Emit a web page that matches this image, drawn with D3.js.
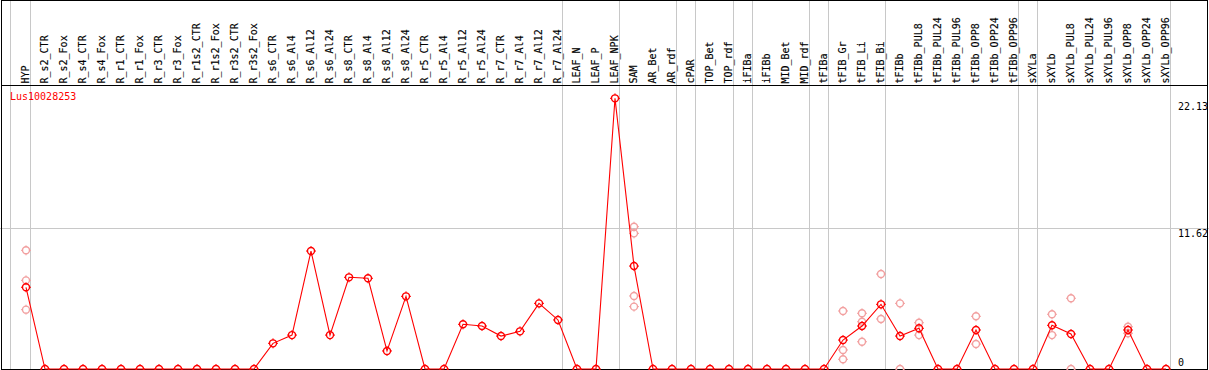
<!DOCTYPE html>
<html>
<head>
<meta charset="utf-8">
<script src="https://cdn.jsdelivr.net/npm/d3@7"></script>
<style>
  body { margin: 0; background: #fff; }
  svg { display: block; }
  text { font-family: "DejaVu Sans Mono", monospace; font-size: 10px; }
</style>
</head>
<body>
<div id="chart"></div>
<script>
// sample names, in plotting order
const samples = ["HYP", "R_s2_CTR", "R_s2_Fox", "R_s4_CTR", "R_s4_Fox", "R_r1_CTR", "R_r1_Fox",
    "R_r3_CTR", "R_r3_Fox", "R_r1s2_CTR", "R_r1s2_Fox", "R_r3s2_CTR", "R_r3s2_Fox",
    "R_s6_CTR", "R_s6_Al4", "R_s6_Al12", "R_s6_Al24", "R_s8_CTR", "R_s8_Al4", "R_s8_Al12", "R_s8_Al24",
    "R_r5_CTR", "R_r5_Al4", "R_r5_Al12", "R_r5_Al24", "R_r7_CTR", "R_r7_Al4", "R_r7_Al12", "R_r7_Al24",
    "LEAF_N", "LEAF_P", "LEAF_NPK", "SAM", "AR_Bet", "AR_rdf", "cPAR", "TOP_Bet", "TOP_rdf",
    "iFIBa", "iFIBb", "MID_Bet", "MID_rdf", "tFIBa", "tFIB_Gr", "tFIB_Li", "tFIB_Bi",
    "tFIBb", "tFIBb_PUL8", "tFIBb_PUL24", "tFIBb_PUL96", "tFIBb_OPP8", "tFIBb_OPP24", "tFIBb_OPP96",
    "sXYLa", "sXYLb", "sXYLb_PUL8", "sXYLb_PUL24", "sXYLb_PUL96", "sXYLb_OPP8", "sXYLb_OPP24", "sXYLb_OPP96"];

// mean expression per sample
const means = [6.75, 0, 0, 0, 0, 0, 0, 0, 0, 0, 0, 0, 0,
    2.12, 2.8, 9.74, 2.8, 7.57, 7.49, 1.49, 6.0,
    0, 0, 3.69, 3.55, 2.72, 3.11, 5.42, 4.05,
    0, 0, 22.35, 8.5, 0, 0, 0, 0, 0,
    0, 0, 0, 0, 0, 2.39, 3.55, 5.34,
    2.72, 3.36, 0, 0, 3.22, 0, 0,
    0, 3.61, 2.89, 0, 0, 3.22, 0, 0];

// individual replicate values (only the ones visible away from the mean)
const replicates = {
    "HYP": [9.8, 7.32, 4.9],
    "SAM": [11.75, 11.2, 6.03, 5.15],
    "tFIB_Gr": [4.79, 1.57, 0.8],
    "tFIB_Li": [4.6, 3.9, 2.25],
    "tFIB_Bi": [7.84, 4.13],
    "tFIBb": [5.42, 0],
    "tFIBb_PUL8": [3.82, 2.8],
    "tFIBb_OPP8": [4.35, 2.06],
    "sXYLb": [4.52, 2.8],
    "sXYLb_PUL8": [5.84, 0],
    "sXYLb_OPP8": [3.49, 2.95]
};

// last sample of each tissue group (a separator is drawn after it)
const groupEnds = ["HYP", "R_r7_Al24", "LEAF_NPK", "AR_rdf", "cPAR", "TOP_rdf", "iFIBa",
    "MID_rdf", "tFIBa", "tFIB_Bi", "tFIBb_OPP96", "sXYLa", "sXYLb_OPP96"];

const yTicks = [0, 11.62, 22.13];
const geneName = "Lus10028253";

const width = 1209, height = 370;
const plotTop = 85, plotBottom = 369;

const svg = d3.select("#chart")
    .append("svg")
    .attr("width", width)
    .attr("height", height);

const x = d3.scalePoint()
    .domain(samples)
    .range([26, 1166]);

const y = d3.scaleLinear()
    .domain([0, 22.13])
    .range([plotBottom, 101]);

// gray separators
const sepX = [10.5].concat(groupEnds.map(s => x(s) + 4.5));
svg.selectAll("line.sep")
    .data(sepX)
    .enter()
    .append("line")
    .attr("class", "sep")
    .attr("x1", d => d).attr("x2", d => d)
    .attr("y1", 0).attr("y2", height)
    .attr("stroke", "#c8c8c8")
    .attr("stroke-width", 1);

// horizontal grid at the middle tick
svg.selectAll("line.grid")
    .data(yTicks.filter(v => v > 0 && v < 22.13))
    .enter()
    .append("line")
    .attr("class", "grid")
    .attr("x1", 0).attr("x2", width)
    .attr("y1", d => Math.round(y(d)) + 0.5)
    .attr("y2", d => Math.round(y(d)) + 0.5)
    .attr("stroke", "#c8c8c8");

// frame
svg.append("line").attr("x1", 1).attr("x2", 1208).attr("y1", 0.5).attr("y2", 0.5).attr("stroke", "black");
svg.append("line").attr("x1", 1).attr("x2", 1208).attr("y1", plotTop + 0.5).attr("y2", plotTop + 0.5).attr("stroke", "black");
svg.append("line").attr("x1", 1).attr("x2", 1208).attr("y1", plotBottom + 0.5).attr("y2", plotBottom + 0.5).attr("stroke", "black");
svg.append("line").attr("x1", 1.5).attr("x2", 1.5).attr("y1", 0).attr("y2", height).attr("stroke", "black");
svg.append("line").attr("x1", 1207.5).attr("x2", 1207.5).attr("y1", 0).attr("y2", height).attr("stroke", "black");

// column labels, vertical
svg.selectAll("text.col")
    .data(samples)
    .enter()
    .append("text")
    .attr("class", "col")
    .attr("transform", d => `translate(${x(d) + 3},83.5) rotate(-90)`)
    .attr("fill", "black")
    .attr("stroke", "black")
    .attr("stroke-width", 0.15)
    .text(d => d);

// y labels on the right
svg.selectAll("text.ylab")
    .data(yTicks)
    .enter()
    .append("text")
    .attr("class", "ylab")
    .attr("x", 1178)
    .attr("y", d => d === 0 ? y(d) - 3 : y(d) + 8.5)
    .attr("fill", "black")
    .text(d => d === 0 ? "0" : d.toFixed(2));

svg.append("text")
    .attr("x", 10)
    .attr("y", 100)
    .attr("fill", "red")
    .text(geneName);

// marker: circle with small ticks around it
function marker(g, color) {
    const r = 3.5;
    g.append("circle")
        .attr("r", r)
        .attr("fill", "none")
        .attr("stroke", color)
        .attr("stroke-width", 1.4);
    g.append("path")
        .attr("d", `M0,${-r - 1.5}V${-r + 0.5}M0,${r - 0.5}V${r + 1.5}M${-r - 1.5},0H${-r + 0.5}M${r - 0.5},0H${r + 1.5}`)
        .attr("stroke", color)
        .attr("stroke-width", 1);
}

// replicate points
const repPoints = [];
samples.forEach(s => {
    (replicates[s] || []).forEach(v => repPoints.push({s: s, v: v}));
});
svg.selectAll("g.rep")
    .data(repPoints)
    .enter()
    .append("g")
    .attr("class", "rep")
    .attr("transform", d => `translate(${x(d.s)},${y(d.v)})`)
    .each(function () { marker(d3.select(this), "#f2a0a0"); });

// mean line
const line = d3.line()
    .x((d, i) => x(samples[i]))
    .y(d => y(d));

svg.append("path")
    .datum(means)
    .attr("d", line)
    .attr("fill", "none")
    .attr("stroke", "red")
    .attr("stroke-width", 1.1);

svg.selectAll("g.mean")
    .data(means)
    .enter()
    .append("g")
    .attr("class", "mean")
    .attr("transform", (d, i) => `translate(${x(samples[i])},${y(d)})`)
    .each(function () { marker(d3.select(this), "red"); });
</script>
</body>
</html>
